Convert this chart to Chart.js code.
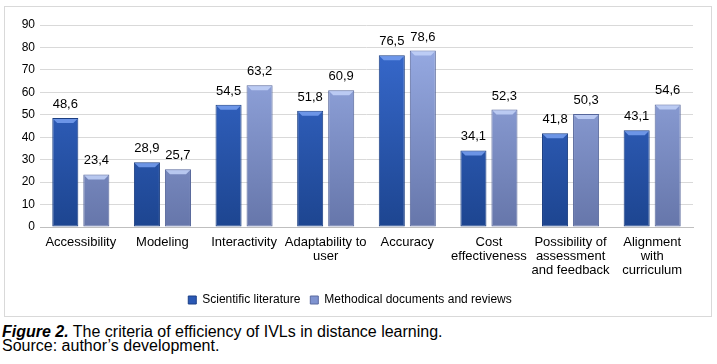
<!DOCTYPE html>
<html><head><meta charset="utf-8">
<script src="https://cdn.jsdelivr.net/npm/chart.js@4"></script>
<style>
body{margin:0;background:#fff;font-family:"Liberation Sans",Arial,sans-serif;}
#box{position:absolute;left:4px;top:6px;width:706px;height:309px;border:1px solid #d9d9d9;}
#cap{position:absolute;left:2px;top:325px;font-size:16px;line-height:14px;color:#000;}
</style></head><body>
<div id="box"><canvas id="c" width="706" height="309"></canvas></div>
<div id="cap"><b><i>Figure 2.</i></b> The criteria of efficiency of IVLs in distance learning.<br>Source: author’s development.</div>
<script>
const categories = ["Accessibility","Modeling","Interactivity",["Adaptability to","user"],"Accuracy",["Cost","effectiveness"],["Possibility of","assessment","and feedback"],["Alignment","with","curriculum"]];
const scientific = [48.6,28.9,54.5,51.8,76.5,34.1,41.8,43.1];
const methodical = [23.4,25.7,63.2,60.9,78.6,52.3,50.3,54.6];
const seriesNames = ["Scientific literature","Methodical documents and reviews"];

function grad(ctx, top, bot){
  const ca = ctx.chart.chartArea;
  if(!ca) return top;
  const g = ctx.chart.ctx.createLinearGradient(0, ca.top, 0, ca.bottom);
  g.addColorStop(0, top); g.addColorStop(1, bot);
  return g;
}
const bevelColors = ['rgba(120,160,240,0.85)','rgba(195,210,248,0.85)'];
const labelPlugin = {
  id:'vals',
  afterDatasetsDraw(chart){
    const c = chart.ctx;
    c.save();
    chart.data.datasets.forEach((ds,i)=>{
      chart.getDatasetMeta(i).data.forEach(el=>{
        const w = el.width, x0 = el.x - w/2 + 1, x1 = el.x + w/2 - 1, y = el.y + 1;
        c.beginPath();
        c.moveTo(x0,y); c.lineTo(x1,y); c.lineTo(x1-4,y+4); c.lineTo(x0+4,y+4); c.closePath();
        c.fillStyle = bevelColors[i]; c.fill();
      });
    });
    c.font = '13px "Liberation Sans", Arial, sans-serif';
    c.fillStyle = '#000';
    c.textAlign = 'center';
    c.textBaseline = 'alphabetic';
    chart.data.datasets.forEach((ds,i)=>{
      chart.getDatasetMeta(i).data.forEach((el,j)=>{
        c.fillText(ds.data[j].toFixed(1).replace('.',','), el.x, el.y-10);
      });
    });
    c.restore();
  }
};
new Chart(document.getElementById('c'),{
  type:'bar',
  data:{labels:categories,datasets:[
    {label:seriesNames[0],data:scientific,backgroundColor:ctx=>grad(ctx,'#3a6dd3','#1d4590'),borderColor:'#1a3d80',borderWidth:1,borderSkipped:false},
    {label:seriesNames[1],data:methodical,backgroundColor:ctx=>grad(ctx,'#9cb0e9','#6676aa'),borderColor:'#56669a',borderWidth:1,borderSkipped:false}
  ]},
  options:{
    responsive:false,animation:false,
    layout:{padding:{left:2,right:18,top:18,bottom:0}},
    datasets:{bar:{categoryPercentage:0.76,barPercentage:0.84}},
    scales:{
      y:{min:0,max:90,ticks:{stepSize:10,color:'#000',font:{size:12,family:'"Liberation Sans", Arial'},padding:5},
         grid:{color:'#d9d9d9',drawTicks:false},border:{display:false},
         afterFit:s=>{s.width=33;}},
      x:{ticks:{color:'#000',font:{size:13,family:'"Liberation Sans", Arial',lineHeight:1.1},padding:8,maxRotation:0,autoSkip:false},
         grid:{display:false,drawTicks:false},border:{color:'#bfbfbf'},
         afterFit:s=>{s.height=57;}}
    },
    plugins:{
      legend:{position:'bottom',labels:{boxWidth:8,boxHeight:8,color:'#000',font:{size:12,family:'"Liberation Sans", Arial'},padding:10,
        generateLabels:ch=>ch.data.datasets.map((d,i)=>({text:d.label,fillStyle:i?'#7f93d0':'#2a58b5',strokeStyle:i?'#5a6aa0':'#1b3f86',lineWidth:1,datasetIndex:i}))}},
      tooltip:{enabled:false}
    }
  },
  plugins:[labelPlugin]
});
</script>
</body></html>
